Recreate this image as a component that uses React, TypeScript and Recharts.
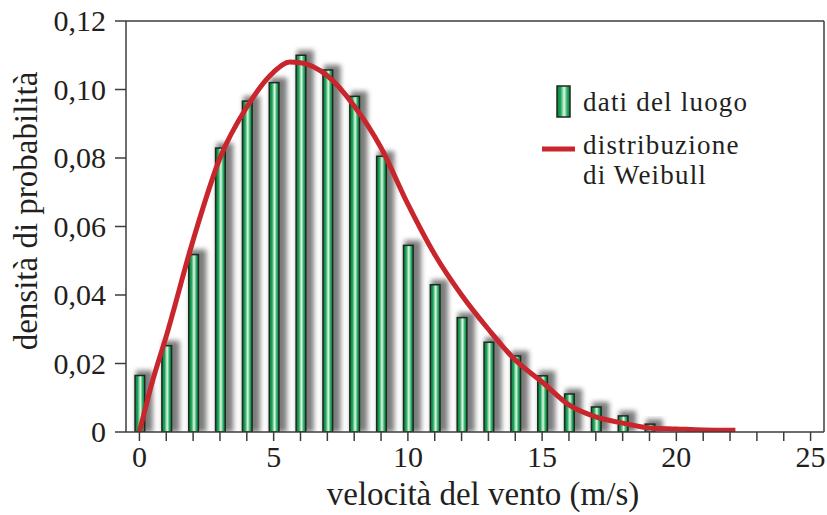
import React from 'react';
import { ComposedChart, Bar, Line, XAxis, YAxis, ReferenceLine } from 'recharts';

// Measured site distribution (bins of 1 m/s)
const windSpeeds = [0, 1, 2, 3, 4, 5, 6, 7, 8, 9, 10, 11, 12, 13, 14, 15, 16, 17, 18, 19];
const siteDensity = [
  0.0165, 0.0252, 0.0518, 0.0829, 0.0966, 0.102, 0.11, 0.1057, 0.098, 0.0805,
  0.0545, 0.043, 0.0334, 0.0262, 0.0222, 0.0164, 0.0111, 0.0073, 0.0047, 0.0023,
];

// Fitted Weibull curve
const weibullSpeeds = [0, 0.5, 1, 2, 3, 4, 5, 5.6, 6, 7, 8, 9, 10, 11, 12, 13, 14, 15, 16, 17, 18, 19, 20, 21, 22.2];
const weibullDensity = [
  0, 0.0152, 0.028, 0.056, 0.08, 0.0949, 0.1051, 0.108, 0.1078, 0.104, 0.0952, 0.083,
  0.0665, 0.0518, 0.04, 0.03, 0.021, 0.0146, 0.0079, 0.0044, 0.0026, 0.0012, 0.0009, 0.0006, 0.0005,
];

const xTicks = Array.from({ length: 26 }, (_, i) => i);
const yTicks = [0, 0.02, 0.04, 0.06, 0.08, 0.1, 0.12];

const barLabel = 'dati del luogo';
const lineLabel1 = 'distribuzione';
const lineLabel2 = 'di Weibull';
const xTitle = 'velocità del vento (m/s)';
const yTitle = 'densità di probabilità';

const barData = windSpeeds.map((v, i) => ({ speed: v, density: siteDensity[i] }));
const curveData = weibullSpeeds.map((v, i) => ({ speed: v, weibull: weibullDensity[i] }));

const FONT = '"Liberation Serif", "Times New Roman", serif';
const INK = '#231f20';
const AXIS = '#3c3c3c';
const RED = '#c9252c';

const GlassBar = (props: any) => {
  const { x, y, width, height } = props;
  if (!height || height <= 0) return null;
  return (
    <g>
      <rect x={x + 1} y={y - 5} width={width + 7} height={height + 5} fill="#666" opacity={0.85} filter="url(#barShadow)" />
      <rect x={x} y={y} width={width} height={height} fill="url(#barFill)" stroke="#1d2a21" strokeWidth={1.5} />
    </g>
  );
};

const XTick = (props: any) => {
  const { x, y, payload } = props;
  const v = payload.value;
  if (v % 5 !== 0) return <g />;
  return (
    <text x={x} y={y} dy={24} textAnchor="middle" fontFamily={FONT} fontSize={30} fill={INK}>
      {v}
    </text>
  );
};

const YTick = (props: any) => {
  const { x, y, payload } = props;
  const v = payload.value;
  const label = v === 0 ? '0' : v.toFixed(2).replace('.', ',');
  return (
    <text x={x - 7} y={y} dy={10} textAnchor="end" fontFamily={FONT} fontSize={30} fill={INK}>
      {label}
    </text>
  );
};

const legendText = { fontFamily: FONT, fontSize: 27, letterSpacing: 1.2, fill: INK };

const LegendBox = () => (
  <svg width={260} height={120} style={{ position: 'absolute', left: 540, top: 80 }}>
    <rect x={17} y={6} width={13} height={31} fill="url(#barFill)" stroke="#1d2a21" strokeWidth={1.5} />
    <text x={43} y={31} {...legendText}>{barLabel}</text>
    <line x1={2} y1={69} x2={35} y2={69} stroke={RED} strokeWidth={5} />
    <text x={43} y={74} {...legendText}>{lineLabel1}</text>
    <text x={43} y={104} {...legendText}>{lineLabel2}</text>
  </svg>
);

export default function App() {
  return (
    <div style={{ position: 'fixed', left: 0, top: 0, width: 827, height: 515, background: '#fff', overflow: 'hidden' }}>
      <ComposedChart
        width={827}
        height={515}
        data={barData}
        margin={{ top: 21, right: 3, bottom: 0, left: 0 }}
      >
        <defs>
          <linearGradient id="barFill" x1="0" y1="0" x2="1" y2="0">
            <stop offset="0%" stopColor="#0a7436" />
            <stop offset="28%" stopColor="#1ea85a" />
            <stop offset="55%" stopColor="#e4f6e9" />
            <stop offset="78%" stopColor="#25b064" />
            <stop offset="100%" stopColor="#0b7a3a" />
          </linearGradient>
          <filter id="barShadow" x="-100%" y="-20%" width="300%" height="140%">
            <feGaussianBlur stdDeviation="2.5" />
          </filter>
        </defs>
        <XAxis
          dataKey="speed"
          type="number"
          domain={[-0.5, 25.5]}
          ticks={xTicks}
          interval={0}
          height={83}
          allowDataOverflow
          axisLine={{ stroke: AXIS, strokeWidth: 1.5 }}
          tickLine={{ stroke: AXIS, strokeWidth: 1.5 }}
          tickSize={9}
          tick={<XTick />}
          label={() => (
            <text x={483} y={505} textAnchor="middle" fontFamily={FONT} fontSize={33} fill={INK}>
              {xTitle}
            </text>
          )}
        />
        <YAxis
          type="number"
          domain={[0, 0.12]}
          ticks={yTicks}
          interval={0}
          width={126}
          allowDataOverflow
          axisLine={{ stroke: AXIS, strokeWidth: 1.5 }}
          tickLine={{ stroke: AXIS, strokeWidth: 1.5 }}
          tickSize={11}
          tick={<YTick />}
          label={() => (
            <text
              x={37}
              y={211}
              transform="rotate(-90 37 211)"
              textAnchor="middle"
              fontFamily={FONT}
              fontSize={33}
              fill={INK}
            >
              {yTitle}
            </text>
          )}
        />
        <ReferenceLine y={0.12} stroke={AXIS} strokeWidth={1.5} />
        <ReferenceLine x={25.5} stroke={AXIS} strokeWidth={1.5} />
        <Bar dataKey="density" barSize={13} shape={<GlassBar />} isAnimationActive={false} />
        <Line
          data={curveData}
          dataKey="weibull"
          type="monotone"
          stroke={RED}
          strokeWidth={5}
          dot={false}
          activeDot={false}
          isAnimationActive={false}
        />
      </ComposedChart>
      <LegendBox />
    </div>
  );
}
